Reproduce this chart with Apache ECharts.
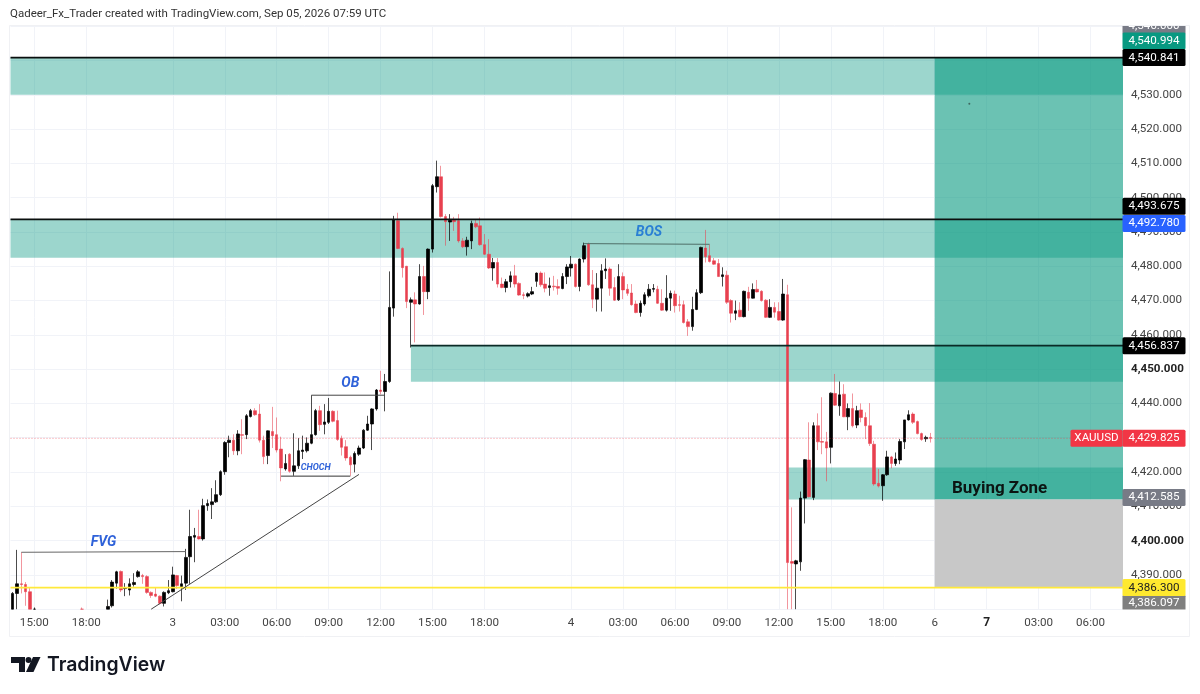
<!DOCTYPE html>
<html>
<head>
<meta charset="utf-8">
<title>XAUUSD</title>
<style>
html, body { margin: 0; padding: 0; background: #fff; }
#main { width: 1200px; height: 694px; }
</style>
</head>
<body>
<div id="main"></div>
<script src="https://cdn.jsdelivr.net/npm/echarts@6/dist/echarts.min.js"></script>
<script>
// candles, 15 min (6-21 sit below the visible range)
const opens = [
  4377,4384.6,4387.4,4387.2,4385.1,4377,4372,4369,4366,4368,
  4365,4367,4364,4367,4370,4368,4372,4375,4373,4376,
  4374,4376,4378,4381,4387.6,4391,4386,4385.6,4387.2,4389.5,
  4389.8,4389.5,4384.9,4384.4,4383.8,4381.7,4384.8,4385.1,4389.8,4386.6,
  4387.6,4395.3,4401,4401.2,4400.5,4410.2,4410.5,4411.3,4413.4,4420.1,
  4428.6,4429.3,4426.2,4430.9,4430.9,4436.2,4437.9,4436.9,4429.3,4424.8,
  4431.8,4430.9,4426.7,4420.9,4425.2,4420.2,4421.8,4426,4426.2,4428.4,
  4430.9,4437.9,4433.9,4434.5,4437.7,4435,4429.8,4427.4,4424.3,4422.3,
  4425.2,4427,4432.2,4434,4438.4,4443.9,4443.5,4446.4,4467.8,4493.3,
  4485.2,4480,4469.5,4470.2,4469,4477,4472.6,4485,4503.2,4506.1,
  4494.5,4492.9,4493.5,4493.3,4487.4,4485.7,4487.4,4492.5,4491.8,4486.3,
  4483.5,4479.5,4481.1,4474.8,4473.8,4475.5,4477.2,4475,4471.7,4471.3,
  4471.9,4475.6,4478,4474.8,4473.8,4474.2,4474.1,4473.5,4477,4479.5,
  4480.6,4474.1,4482.1,4486.5,4474.6,4470.4,4473.6,4478.7,4479.2,4473.8,
  4470.2,4477,4473.3,4472.2,4469,4466.5,4469,4471.4,4473.3,4473.3,
  4469.2,4467.2,4470.7,4471.9,4468.8,4468.8,4463.8,4462.4,4467.4,4472.3,
  4485.3,4483.1,4481.6,4480.8,4477,4477.4,4470,4466.3,4467.2,4465.3,
  4472.4,4470.7,4473.3,4472.7,4470.1,4465.1,4468,4466.8,4464.3,4471.7,
  4393.9,4393.2,4393.8,4412.4,4423.5,4412.6,4433.5,4428.9,4428.8,4427.2,
  4442.9,4439.3,4442.7,4436.1,4438.5,4433.7,4438.1,4435.9,4433.5,4428.1,
  4416.7,4416,4419.2,4424.4,4422.5,4423.5,4428.8,4435.2,4436.9,4434.7,
  4431.2,4429.7,4430.1
];
const closes = [
  4384.6,4387.4,4387.2,4385.1,4377,4372,4369,4366,4368,4365,
  4367,4364,4367,4370,4368,4372,4375,4373,4376,4374,
  4376,4378,4380.8,4387.9,4390.9,4385.6,4386.2,4387.4,4387.8,4390.9,
  4389.5,4384.9,4384,4383.8,4381.7,4384.9,4385.4,4390,4386.9,4387.4,
  4395.1,4401.2,4401.5,4400.5,4410.2,4410.8,4411.3,4413.4,4420.1,4428.6,
  4429.3,4426.2,4431.1,4430.7,4436.4,4437.9,4436.7,4429.3,4424.5,4432,
  4430.6,4426.4,4421.2,4422.5,4420.2,4421.8,4426.2,4426.4,4428.4,4430.9,
  4437.9,4433.8,4434.6,4437.7,4434.8,4429.5,4427.2,4424.1,4422.1,4425.4,
  4427,4432.2,4434,4438.4,4443.9,4443.5,4446.4,4468,4493.5,4485.2,
  4479.6,4469.7,4470.2,4469,4477,4472.6,4485,4503.5,4506.1,4494.5,
  4493,4493.4,4493,4487.4,4485.7,4487.6,4492.5,4491.5,4486.3,4483.5,
  4479.5,4481.1,4474.8,4473.8,4475.5,4477.2,4474.8,4471.6,4471.5,4472,
  4472.6,4478,4474.6,4473.6,4474.3,4474,4473.6,4477,4479.8,4480.6,
  4474.1,4482.1,4486,4474.6,4470.4,4473.6,4478.7,4479.2,4473.6,4470.1,
  4477,4473.1,4472.1,4468.8,4466.5,4469.2,4471.7,4473.3,4473.5,4469.2,
  4467.2,4470.7,4472.1,4468.5,4468.6,4463.6,4462.4,4467.4,4472.3,4485.5,
  4482.8,4481.4,4480.6,4477,4477.5,4469.5,4466.3,4467,4465.3,4472.7,
  4470.7,4473.2,4472.5,4470,4465.1,4468,4466.6,4464.3,4471.9,4393.6,
  4393.4,4394.1,4412.4,4423.6,4412.8,4433.5,4428.8,4428.7,4427,4443,
  4439.5,4442.5,4436.1,4438.5,4433.5,4437.9,4435.9,4433.5,4428.3,4416.5,
  4415.9,4419.2,4424.4,4422.5,4423.8,4428.9,4435.2,4436.7,4434.5,4431.2,
  4429.5,4430.1,4429.825
];
const lows = [
  4372,4376,4384.6,4381,4372,4368,4367,4364,4363,4363,
  4363,4362,4362,4366,4366,4367,4371,4371,4372,4372,
  4373,4375,4377,4380.5,4386,4385,4383.8,4384,4386.6,4389.2,
  4387.4,4384.5,4383.3,4383.5,4381.4,4380.8,4384.4,4384.9,4385.9,4382.3,
  4385.6,4387.4,4393.7,4400.3,4400,4408.7,4406.3,4411,4413,4419.2,
  4424.3,4425,4424.9,4425.2,4429.6,4435.9,4436.4,4428.6,4422.3,4422.3,
  4427,4425.7,4417.3,4420.4,4419.8,4418.9,4420.9,4423.8,4425.7,4428.1,
  4430.6,4432,4431,4434,4434.5,4429.1,4424.8,4423.3,4418.9,4419.9,
  4424.7,4426.7,4432,4426.4,4437.9,4442.7,4437.7,4446,4465.3,4485,
  4476.7,4467.8,4456.3,4457.8,4468.8,4465.8,4470.4,4484,4501.5,4494.2,
  4486,4487.4,4490.3,4486.9,4485.3,4483.1,4485,4491.1,4486,4483.3,
  4479.2,4475.8,4473.8,4473.6,4472.4,4473.8,4473.8,4471.4,4470.4,4470.9,
  4471.6,4474,4474,4472.4,4471.4,4472.9,4471.7,4473.3,4474.8,4477,
  4473.8,4472.7,4481.1,4474.3,4467.8,4466.8,4466.8,4476.3,4471.4,4469.9,
  4469.9,4470.4,4471.4,4468.5,4466.3,4465.3,4468.5,4470.9,4472.4,4469,
  4467,4466.8,4467,4466.5,4466.8,4463.3,4459.7,4461.2,4467.2,4471.9,
  4481.1,4481.1,4480.4,4476.9,4474.1,4469,4463.6,4464.3,4465.1,4465.1,
  4467,4470.6,4472.4,4469.7,4464.9,4464.9,4465,4464.1,4464.1,4378,
  4378,4378,4391.2,4405,4412.6,4411.8,4426.4,4425.2,4417.3,4422.5,
  4439.3,4436.4,4436,4432.2,4433,4432.8,4434.5,4429.6,4427.6,4416,
  4415.5,4411.6,4418.9,4421.1,4421.8,4422.3,4426.7,4435,4434,4431,
  4429.1,4428.8,4428.6
];
const highs = [
  4385,4397.3,4396.6,4387.9,4386.4,4380.5,4374,4371,4370,4369,
  4369,4368,4369,4372,4372,4375,4380.5,4377,4378,4378,
  4378,4379.5,4382.8,4388.5,4391.2,4391.3,4387.6,4389,4390.5,4391.4,
  4390.3,4389.9,4385.2,4386.4,4384,4385.2,4388.5,4392.4,4390,4389.8,
  4397.6,4409,4403.7,4409,4412.2,4412,4415.3,4417.6,4420.5,4429,
  4430.6,4431,4432.2,4435.4,4436.9,4438.4,4438.6,4439.8,4430.6,4432.1,
  4439,4435.9,4430.3,4425.2,4425.5,4431.3,4429.9,4430.6,4430.1,4442.4,
  4438.4,4439.3,4439.8,4441.6,4438,4437.9,4430.6,4429.3,4424.8,4426,
  4427.7,4432.5,4436.4,4438.6,4444.2,4449.5,4448.6,4478.5,4494.7,4495.6,
  4485.5,4480.1,4470.9,4472.4,4480.6,4480.1,4485.2,4504,4510.8,4509.3,
  4495.2,4495.2,4494.4,4495.2,4488.2,4488.6,4493.3,4493.5,4494.2,4489.4,
  4487.9,4482.4,4482.4,4476.7,4476.3,4478.5,4480.4,4475.3,4472.4,4472.4,
  4474,4478.2,4478.5,4478.2,4476.7,4477.2,4476.2,4478,4480.6,4483,
  4480.8,4482.3,4486.9,4486.9,4478.9,4478,4480.6,4482.3,4479.7,4476.8,
  4480.6,4478.2,4474.8,4474.8,4470,4470,4472.4,4474.8,4474.8,4474.3,
  4473.3,4477.4,4472.9,4472.9,4471.4,4470,4464.6,4471.1,4473.3,4485.7,
  4490.6,4486.3,4482.4,4482.1,4479.7,4478.7,4470.4,4470,4469.5,4472.9,
  4474,4475,4476,4473,4470.4,4470.4,4469.5,4469.5,4476.3,4474.6,
  4409.7,4394.4,4414.3,4423.8,4434.5,4434.5,4437.1,4441.8,4431.7,4443.2,
  4448.6,4446.4,4445.6,4440,4442.9,4439.3,4440,4437.4,4440.1,4429.1,
  4420.9,4419.4,4426.2,4424.7,4425.7,4429.6,4435.2,4438,4437.4,4435,
  4431.5,4430.6,4431.4
];

// price axis range
const priceMin = 4380;
const priceMax = 4550;

// time axis: band index of each labelled tick
const tickIndex = [5, 17, 37, 49, 61, 73, 85, 97, 109, 129, 141, 153, 165, 177, 189, 201, 213, 225, 237, 249];
const tickText = ['15:00', '18:00', '3', '03:00', '06:00', '09:00', '12:00', '15:00', '18:00', '4',
  '03:00', '06:00', '09:00', '12:00', '15:00', '18:00', '6', '7', '03:00', '06:00'];
const boldPrices = [4450, 4400];

// last band of the time axis (future bars run up to it)
const lastBand = 256;
const categories = [];
for (let i = 0; i <= lastBand; i++) {
  const k = tickIndex.indexOf(i);
  categories.push(k >= 0 ? tickText[k] : '');
}

// supply / demand zones
const zoneStart = [0, 0, 92, 179];
const zoneTop = [4540.841, 4493.675, 4456.837, 4421.3];
const zoneBottom = [4530, 4482.5, 4446.3, 4412];

// long position tool
const positionStart = 213;
const positionEntry = 4412;
const positionTarget = 4540.841;
const positionStop = 4386.3;
const positionMark = [[221, 4527.4]];

// levels and hand drawn lines
const levelPrices = [4540.841, 4493.675, 4456.837, 4386.3, 4429.825];
const levelStart = [0, 0, 92, 0, 0];
const drawnLines = [
  [[2, 4396.6], [40, 4396.8]],     // FVG
  [[62, 4418.8], [78, 4418.8]],    // CHOCH
  [[69, 4442.4], [86, 4442.4]],    // OB
  [[132, 4486.6], [161, 4486.4]],  // BOS
  [[32, 4380], [80, 4419.3]]       // trend line
];

// notes on the chart
const noteText = ['FVG', 'OB', 'CHOCH', 'BOS', 'Buying Zone'];
const noteBand = [21, 78, 70, 147, 228];
const notePrice = [4399.5, 4445.7, 4421.3, 4489.8, 4415.1];

// price tags on the axis, the later ones lie on top
const tagPrice = [4546, 4540.994, 4540.841, 4493.675, 4492.78, 4456.837, 4429.825, 4412.585, 4386.097, 4386.3];
const tagText = ['4,546.000', '4,540.994', '4,540.841', '4,493.675', '4,492.780', '4,456.837', '4,429.825', '4,412.585', '4,386.097', '4,386.300'];

const chart = echarts.init(document.getElementById('main'));
const FONT = 'Roboto, sans-serif';
const GRID_COLOR = '#f1f3f8';
const AXIS_FONT_SIZE = 11.6;

// styles matching the arrays above
const zoneColor = 'rgba(8,153,129,0.4)';
const levelColor = ['#0a0f0e', '#0a0f0e', '#0a2a26', '#ffe93b', 'rgba(242,54,69,0.55)'];
const levelWidth = [1.8, 1.8, 1.8, 1.8, 1];
const levelDash = [null, null, null, null, [1, 2]];
const lineColor = ['#666', '#333', '#444', '#4f6f68', '#444'];
const noteStyle = [
  { font: 'italic bold 14px ' + FONT, fill: '#2f62d9' },
  { font: 'italic bold 14px ' + FONT, fill: '#2f62d9' },
  { font: 'italic bold 9px ' + FONT, fill: '#2f62d9' },
  { font: 'italic bold 14px ' + FONT, fill: '#2a7fd4' },
  { font: 'bold 17px ' + FONT, fill: '#0b1512' }
];
const tagColor = ['#787b86', '#089981', '#000', '#000', '#2962ff', '#000', '#f23645', '#787b86', '#7f7f7f', '#ffe92f'];
const tagInk = ['#fff', '#fff', '#fff', '#fff', '#fff', '#fff', '#fff', '#fff', '#fff', '#222'];
const tagShift = [-14, -16, 0, -13, 1, 0, 0, 0, 15, 0];

// the pane cuts candles off at its bottom edge
const candles = opens.map(function (o, i) {
  if (highs[i] < priceMin) return ['-', '-', '-', '-'];
  return [Math.max(o, priceMin), Math.max(closes[i], priceMin), Math.max(lows[i], priceMin), highs[i]];
});

function renderZone(params, api) {
  const k = params.dataIndex;
  const band = api.size([1, 0])[0];
  const a = api.coord([zoneStart[k], zoneTop[k]]);
  const b = api.coord([lastBand, zoneBottom[k]]);
  const left = zoneStart[k] === 0 ? a[0] - band / 2 : a[0];
  return {
    type: 'rect',
    shape: { x: left, y: a[1], width: b[0] + band / 2 - left, height: b[1] - a[1] },
    style: { fill: zoneColor }
  };
}

function renderPosition(params, api) {
  const band = api.size([1, 0])[0];
  const x = api.coord([positionStart, 0])[0];
  const right = api.coord([lastBand, 0])[0] + band / 2;
  const target = api.coord([positionStart, positionTarget])[1];
  const entry = api.coord([positionStart, positionEntry])[1];
  const stop = api.coord([positionStart, positionStop])[1];
  return {
    type: 'group',
    children: [
      { type: 'rect', shape: { x: x, y: target, width: right - x, height: entry - target }, style: { fill: 'rgba(8,153,129,0.6)' } },
      { type: 'rect', shape: { x: x, y: entry, width: right - x, height: stop - entry }, style: { fill: '#c8c8c8' } }
    ]
  };
}

function renderLevel(params, api) {
  const k = params.dataIndex;
  const band = api.size([1, 0])[0];
  const a = api.coord([levelStart[k], levelPrices[k]]);
  const b = api.coord([lastBand, levelPrices[k]]);
  return {
    type: 'line',
    shape: { x1: levelStart[k] === 0 ? a[0] - band / 2 : a[0], y1: a[1], x2: b[0] + band / 2, y2: b[1] },
    style: { stroke: levelColor[k], lineWidth: levelWidth[k], lineDash: levelDash[k] }
  };
}

function renderDrawn(params, api) {
  const k = params.dataIndex;
  const a = api.coord(drawnLines[k][0]);
  const b = api.coord(drawnLines[k][1]);
  return {
    type: 'line',
    shape: { x1: a[0], y1: a[1], x2: b[0], y2: b[1] },
    style: { stroke: lineColor[k], lineWidth: 1 }
  };
}

function renderNote(params, api) {
  const k = params.dataIndex;
  const p = api.coord([noteBand[k], notePrice[k]]);
  return {
    type: 'text',
    style: {
      x: p[0], y: p[1], text: noteText[k],
      font: noteStyle[k].font, fill: noteStyle[k].fill,
      align: 'center', verticalAlign: 'middle'
    }
  };
}

function renderTag(params, api) {
  const k = params.dataIndex;
  const band = api.size([1, 0])[0];
  const x = api.coord([lastBand, 0])[0] + band / 2 - 0.5;
  const y = api.coord([0, tagPrice[k]])[1] + tagShift[k];
  const children = [
    { type: 'rect', shape: { x: x, y: y - 8.5, width: 63, height: 17, r: 1.5 }, style: { fill: tagColor[k] } },
    { type: 'text', style: { x: x + 31.5, y: y, text: tagText[k], font: AXIS_FONT_SIZE + 'px ' + FONT, fill: tagInk[k], align: 'center', verticalAlign: 'middle' } }
  ];
  if (tagText[k] === '4,429.825') {
    children.push(
      { type: 'rect', shape: { x: x - 52, y: y - 8.5, width: 52, height: 17, r: 1.5 }, style: { fill: tagColor[k] } },
      { type: 'text', style: { x: x - 26, y: y, text: 'XAUUSD', font: AXIS_FONT_SIZE + 'px ' + FONT, fill: '#fff', align: 'center', verticalAlign: 'middle' } }
    );
  }
  return { type: 'group', children: children };
}

function customSeries(name, z, items, render) {
  return { name: name, type: 'custom', z: z, silent: true, data: items, renderItem: render };
}

const showTick = function (index, value) { return value !== ''; };

const option = {
  backgroundColor: '#fff',
  animation: false,
  textStyle: { fontFamily: FONT },
  title: {
    text: 'Qadeer_Fx_Trader created with TradingView.com, Sep 05, 2026 07:59 UTC',
    left: 5, top: 3,
    textStyle: { fontFamily: FONT, fontSize: 11.5, fontWeight: 'normal', color: '#333' }
  },
  grid: { left: 10.5, right: 77, top: 26.2, bottom: 84.8 },
  xAxis: {
    type: 'category',
    data: categories,
    boundaryGap: true,
    axisLine: { lineStyle: { color: GRID_COLOR } },
    axisTick: { show: false },
    splitLine: { show: true, interval: showTick, alignWithLabel: true, lineStyle: { color: GRID_COLOR } },
    axisLabel: {
      interval: showTick,
      margin: 8,
      fontSize: AXIS_FONT_SIZE,
      color: '#444',
      fontFamily: FONT,
      formatter: function (v) { return v === '7' ? '{b|7}' : v; },
      rich: { b: { fontWeight: 'bold', fontSize: 12, color: '#222', fontFamily: FONT } }
    }
  },
  yAxis: {
    type: 'value',
    position: 'right',
    min: priceMin,
    max: priceMax,
    interval: 10,
    axisLine: { show: false },
    axisTick: { show: false },
    splitLine: { show: true, lineStyle: { color: GRID_COLOR } },
    axisLabel: {
      showMinLabel: false,
      showMaxLabel: false,
      margin: 8,
      fontSize: AXIS_FONT_SIZE,
      color: '#444',
      fontFamily: FONT,
      formatter: function (v) {
        const s = v.toLocaleString('en-US', { minimumFractionDigits: 3 });
        return boldPrices.indexOf(v) >= 0 ? '{b|' + s + '}' : s;
      },
      rich: { b: { fontWeight: 'bold', fontSize: AXIS_FONT_SIZE, color: '#222', fontFamily: FONT } }
    }
  },
  series: [
    customSeries('zones', 1, zoneTop.map(function (t, k) { return [zoneStart[k], t]; }), renderZone),
    customSeries('position', 1, [[positionStart, positionEntry]], renderPosition),
    { name: 'mark', type: 'scatter', z: 4, silent: true, symbolSize: 2, itemStyle: { color: '#33514b' }, data: positionMark },
    {
      name: 'XAUUSD',
      type: 'candlestick',
      z: 3,
      silent: true,
      barWidth: 3,
      data: candles,
      itemStyle: {
        color: '#000',
        color0: '#e8404f',
        borderColor: 'rgba(0,0,0,0.7)',
        borderColor0: 'rgba(232,64,79,0.55)',
        borderWidth: 1
      }
    },
    customSeries('levels', 5, levelPrices.map(function (p, k) { return [levelStart[k], p]; }), renderLevel),
    customSeries('drawn', 5, drawnLines.map(function (l) { return l[0]; }), renderDrawn),
    customSeries('notes', 6, noteText.map(function (t, k) { return [noteBand[k], notePrice[k]]; }), renderNote),
    customSeries('tags', 10, tagPrice.map(function (p) { return [0, p]; }), renderTag)
  ],
  graphic: [
    // frame round the pane and the axes
    { type: 'rect', z: 50, silent: true, shape: { x: 9.5, y: 25.5, width: 1180, height: 611 }, style: { fill: 'none', stroke: '#f0f1f4', lineWidth: 1 } },
    // the top and bottom tags are cut off at the edge of the pane
    { type: 'rect', z: 100, silent: true, shape: { x: 1122, y: 0, width: 78, height: 25 }, style: { fill: '#fff' } },
    { type: 'rect', z: 100, silent: true, shape: { x: 1122, y: 609.5, width: 66, height: 12 }, style: { fill: '#fff' } },
    // logo
    { type: 'polygon', z: 100, silent: true, shape: { points: [[11, 657], [25, 657], [25, 672], [19, 672], [19, 663], [11, 663]] }, style: { fill: '#131722' } },
    { type: 'circle', z: 100, silent: true, shape: { cx: 28.5, cy: 660, r: 3 }, style: { fill: '#131722' } },
    { type: 'polygon', z: 100, silent: true, shape: { points: [[33, 657], [40.5, 657], [33.5, 672], [26, 672]] }, style: { fill: '#131722' } },
    { type: 'text', z: 100, silent: true, style: { x: 47, y: 665, text: 'TradingView', font: '600 19.4px Inter, ' + FONT, fill: '#131722', verticalAlign: 'middle' } }
  ]
};

chart.setOption(option);
</script>
</body>
</html>
